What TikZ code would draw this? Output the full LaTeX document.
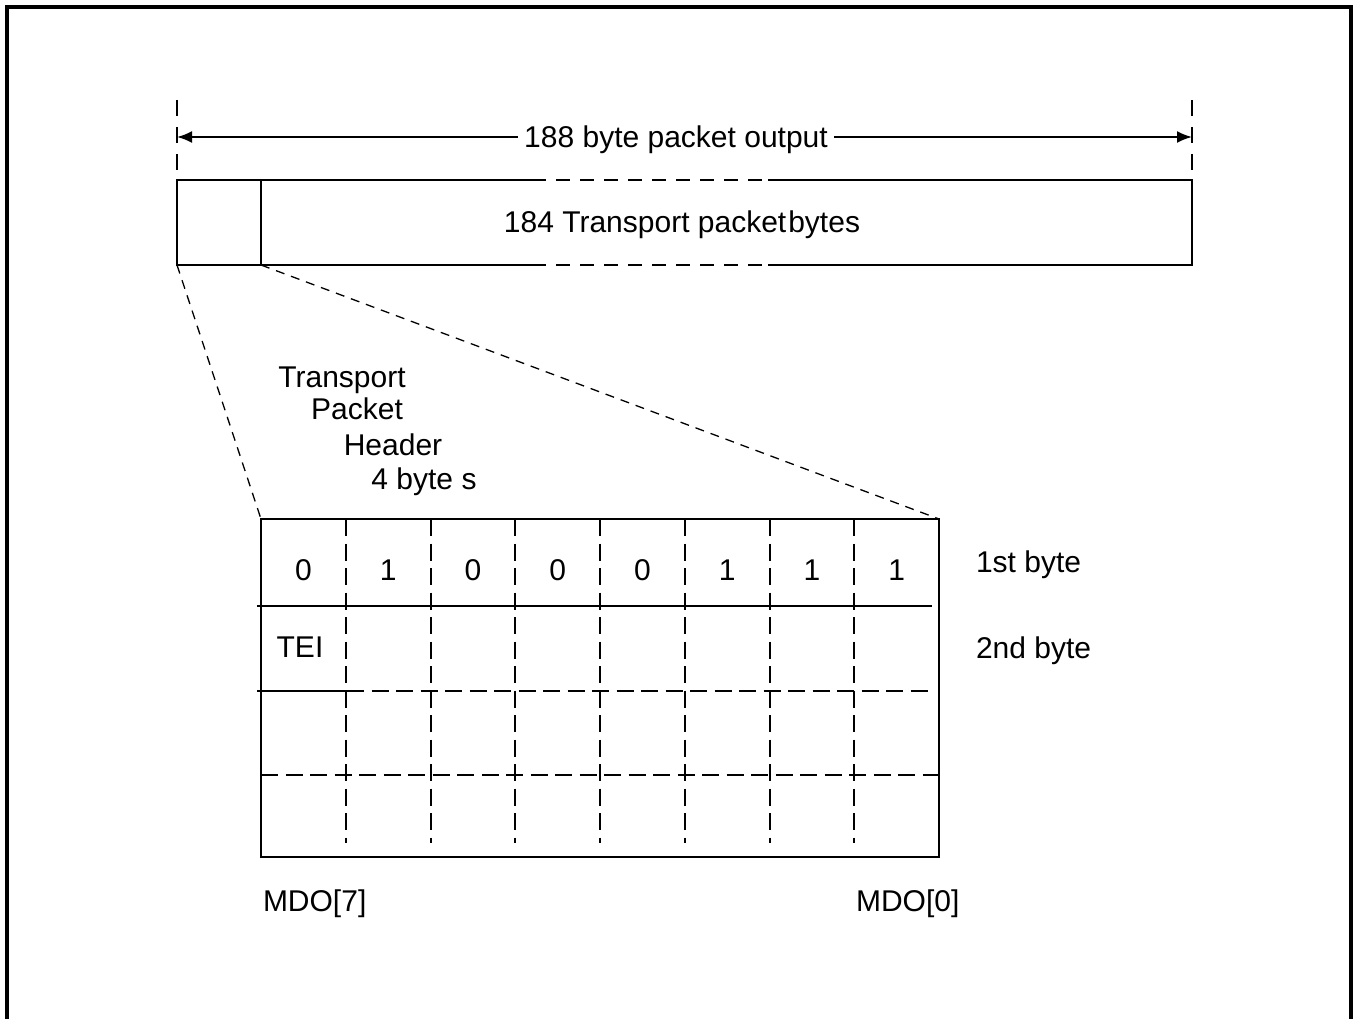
\documentclass[tikz,border=0pt]{standalone}
\usepackage{fontspec}
\setmainfont{Liberation Sans}
\usetikzlibrary{arrows.meta}

\begin{document}
\begin{tikzpicture}[x=1pt, y=-1pt, line width=2pt,
    lbl/.style={font=\fontsize{30}{36}\selectfont, inner sep=0pt},
    tickdash/.style={dash pattern=on 16pt off 11pt},
    boxdash/.style={dash pattern=on 14pt off 10pt},
    griddash/.style={dash pattern=on 17pt off 7.5pt},
    zoomline/.style={line width=1.3pt, dash pattern=on 9pt off 7pt}]
  \useasboundingbox (0,0) rectangle (1357,1019);
  % outer frame
  \draw[line width=3.5pt] (7,1030) -- (7,7) -- (1351,7) -- (1351,1030);

  % 188 byte packet
  \coordinate (pnw) at (177,180);
  \coordinate (pne) at (1192,180);
  \coordinate (psw) at (177,265);
  \coordinate (pse) at (1192,265);
  \coordinate (hne) at (261,180);
  \coordinate (hse) at (261,265);
  \draw (532,180) -- (pnw) -- (psw) -- (532,265);
  \draw (768,180) -- (pne) -- (pse) -- (768,265);
  \draw[boxdash] (532,180) -- (768,180) (532,265) -- (768,265);
  \draw (hne) -- (hse);
  \node[lbl, anchor=base] (payload) at (682,233) {184 Transport packet\kern2pt bytes};

  % total length
  \draw[tickdash] (177,100) -- (177,175);
  \draw[tickdash] (1192,100) -- (1192,175);
  \coordinate (dl) at (177,137);
  \coordinate (dr) at (1192,137);
  \node[lbl, text depth=0pt, fill=white, inner xsep=5pt] (total) at (676,137) {188 byte packet output};
  \draw[-{Latex[length=15pt,width=12pt]}] (total) -- (dl);
  \draw[-{Latex[length=15pt,width=12pt]}] (total) -- (dr);

  % header bytes
  \coordinate (gnw) at (261,519);
  \coordinate (gne) at (939,519);
  \coordinate (gse) at (939,857);
  \draw (gnw) rectangle (gse);
  \draw (257,606) -- (932,606);
  \draw (257,691) -- (347,691);
  \draw[griddash] (347,691) -- (932,691);
  \draw[griddash] (261,775) -- (939,775);
  \foreach \i in {1,...,7}
    \draw[griddash] ({261+\i*84.75},519) -- ({261+\i*84.75},843);
  \foreach \b [count=\i from 0] in {0,1,0,0,0,1,1,1}
    \node[lbl, anchor=base] (bit\i) at ({303.5+\i*84.75},580) {\b};
  \node[lbl, anchor=base] (tei) at (300,657) {TEI};

  % zoom lines
  \draw[zoomline] (psw) -- (gnw);
  \draw[zoomline] (hse) -- (gne);

  % labels
  \node[lbl, anchor=base] (hdr1) at (342,387) {Transport};
  \node[lbl, anchor=base] (hdr2) at (357,419) {Packet};
  \node[lbl, anchor=base] (hdr3) at (393,455) {Header};
  \node[lbl, anchor=base] (hdr4) at (424,489) {4 byte s};
  \node[lbl, anchor=base west] (firstbyte) at (975,572) {1st byte};
  \node[lbl, anchor=base west] (secondbyte) at (975,658) {2nd byte};
  \node[lbl, anchor=base west] (msb) at (262,911) {MDO[7]};
  \node[lbl, anchor=base west] (lsb) at (855,911) {MDO[0]};
\end{tikzpicture}
\end{document}
